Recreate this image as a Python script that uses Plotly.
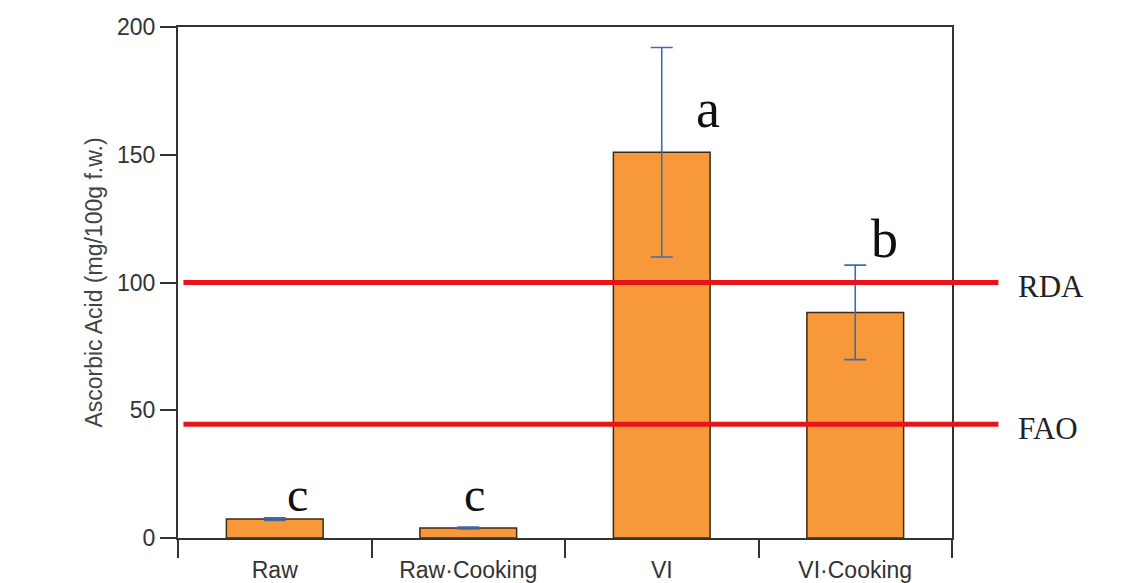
import plotly.graph_objects as go

categories = ["Raw", "Raw\u00b7Cooking", "VI", "VI\u00b7Cooking"]
values = [7.4, 3.9, 151, 88.3]
errors = [0.5, 0.4, 41, 18.5]
letters = ["c", "c", "a", "b"]
letter_x = [0.12, 1.03, 2.24, 3.15]
letter_y = [17, 17, 168, 117]
ref_names = ["RDA", "FAO"]
ref_values = [100, 44.5]
y_ticks = [0, 50, 100, 150, 200]

fig = go.Figure()
fig.add_trace(go.Bar(
    x=categories, y=values, width=0.5,
    marker=dict(color="#f7993b", line=dict(color="#3a2a1a", width=1.5)),
    error_y=dict(type="data", array=errors, visible=True,
                 color="#3d6db0", thickness=1.6, width=11),
    showlegend=False,
))

for name, v in zip(ref_names, ref_values):
    fig.add_shape(type="line", xref="paper", yref="y",
                  x0=0.007, x1=1.06, y0=v, y1=v,
                  line=dict(color="#e8141c", width=5), layer="above")
    fig.add_annotation(xref="paper", yref="y", x=1.083, y=v - 1.5,
                       text=name, showarrow=False, xanchor="left", yanchor="middle",
                       font=dict(family="Liberation Serif", size=31, color="#222"))

for t, lx, ly in zip(letters, letter_x, letter_y):
    fig.add_annotation(x=lx, y=ly, xref="x", yref="y", text=t, showarrow=False,
                       xanchor="center", yanchor="middle",
                       font=dict(family="Liberation Serif",
                                 size=48 if t == "c" else 54, color="#111"))

fig.update_layout(
    width=1138, height=583,
    margin=dict(l=170, r=194, t=19, b=53, autoexpand=False),
    paper_bgcolor="white", plot_bgcolor="white",
    bargap=0.5,
    xaxis=dict(
        type="category", tickson="boundaries", ticks="outside", ticklen=18,
        tickwidth=2, tickcolor="#333", showline=True, linecolor="#333",
        linewidth=2, mirror=True, showgrid=False, range=[-0.5, 3.5],
        automargin=False, ticklabelstandoff=10,
        tickfont=dict(family="Liberation Sans", size=23, color="#333"),
    ),
    yaxis=dict(
        range=[0, 200], tickvals=y_ticks, ticks="outside", ticklen=16,
        tickwidth=2, tickcolor="#333", showline=True, linecolor="#333",
        linewidth=2, mirror=True, showgrid=False, zeroline=False,
        automargin=False,
        tickfont=dict(family="Liberation Sans", size=23, color="#333"),
        title=dict(text="Ascorbic Acid (mg/100g f.w.)", standoff=8,
                   font=dict(family="Liberation Sans", size=23, color="#444")),
    ),
)

fig.write_html("out.html")
